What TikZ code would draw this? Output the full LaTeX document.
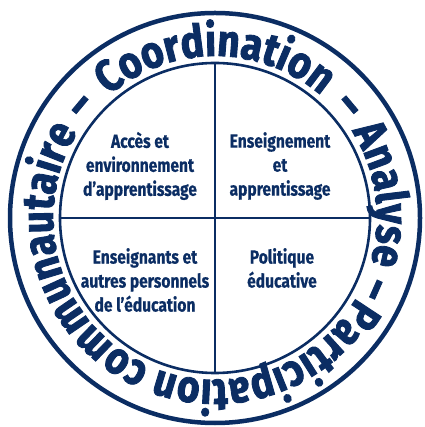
\documentclass[tikz,border=0pt]{standalone}
\usepackage{fontspec}
\setmainfont{Fira Sans}
\newfontfamily\ringfont[FakeStretch=0.86,FakeBold=2]{Fira Sans}
\newfontfamily\condfont[FakeStretch=0.82,FakeBold=0.6]{Fira Sans}
\usetikzlibrary{decorations.text}
\definecolor{navy}{HTML}{0B2D63}
\newcommand\ringword[2]{%
  \path[decorate,decoration={text along path,text align=center,
    text={|\color{navy}\ringfont\bfseries\fontsize{45}{45}\selectfont|#2}}]
    (c) ++(#1+70:162) arc[start angle=#1+70,end angle=#1-70,radius=162];}
\begin{document}
\begin{tikzpicture}[x=1pt,y=1pt,
  quad/.style={text=navy,align=center,font=\condfont\bfseries\fontsize{19}{24}\selectfont,inner sep=0pt}]
\useasboundingbox (0,0) rectangle (424,427);
\coordinate (c) at (215,209);
\draw[navy,line width=4.5pt] (c) circle[radius=205];
\draw[navy,line width=2.6pt] (c) circle[radius=155];
\coordinate (t) at (215,364);
\coordinate (b) at (215,54);
\coordinate (l) at (60,209);
\coordinate (r) at (370,209);
\draw[navy,line width=1.4pt] (t) -- (b);
\draw[navy,line width=1.4pt] (l) -- (r);
\ringword{90}{Coordination}
\ringword{140}{–}
\ringword{40}{–}
\ringword{8}{Analyse}
\ringword{-24}{–}
\ringword{-70}{Participation}
\ringword{-163}{communautaire}
\node[quad] (q1) at (140,261) {Accès et\\environnement\\d’apprentissage};
\node[quad] (q2) at (280,261) {Enseignement\\et\\apprentissage};
\node[quad] (q3) at (145,147) {Enseignants et\\autres personnels\\de l’éducation};
\node[quad] (q4) at (282,159) {Politique\\éducative};
\end{tikzpicture}
\end{document}
